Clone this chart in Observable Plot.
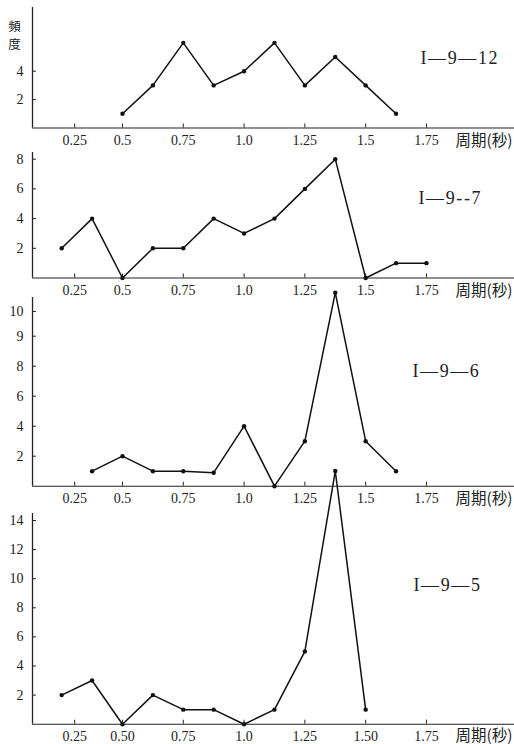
<!DOCTYPE html>
<html><head><meta charset="utf-8">
<script src="https://cdn.jsdelivr.net/npm/d3@7"></script>
<script src="https://cdn.jsdelivr.net/npm/@observablehq/plot@0.6"></script>
<style>
body{margin:0;background:#fff;}
#wrap{position:relative;width:514px;height:744px;overflow:hidden;}
#wrap svg, #wrap svg text{font-family:'Liberation Serif', 'DejaVu Serif', serif;}
#wrap g[aria-label$="tick label"]{font-size:14px;}
#wrap g[font-size="18"] text{letter-spacing:1.6px;}
#wrap g[font-family="Noto Sans CJK JP"] text{font-family:'Noto Sans CJK JP', sans-serif;}
</style></head><body><div id="wrap"></div>
<script>
// ---- data ----
const xTicks = [0.25, 0.5, 0.75, 1.0, 1.25, 1.5, 1.75];
const xTickLabels1 = ["0.25", "0.5", "0.75", "1.0", "1.25", "1.5", "1.75"];
const xTickLabels2 = ["0.25", "0.5", "0.75", "1.0", "1.25", "1.5", "1.75"];
const xTickLabels3 = ["0.25", "0.5", "0.75", "1.0", "1.25", "1.5", "1.75"];
const xTickLabels4 = ["0.25", "0.50", "0.75", "1.0", "1.25", "1.50", "1.75"];
const xAxisTitle = "周期(秒)";
const yAxisTitle = "頻\n度";

const names = ["I—9—12", "I—9--7", "I—9—6", "I—9—5"];

const periods1 = [0.5, 0.625, 0.75, 0.875, 1.0, 1.125, 1.25, 1.375, 1.5, 1.625];
const values1  = [1, 3, 6, 3, 4, 6, 3, 5, 3, 1];

const periods2 = [0.25, 0.375, 0.5, 0.625, 0.75, 0.875, 1.0, 1.125, 1.25, 1.375, 1.5, 1.625, 1.75];
const values2  = [2, 4, 0, 2, 2, 4, 3, 4, 6, 8, 0, 1, 1];

const periods3 = [0.375, 0.5, 0.625, 0.75, 0.875, 1.0, 1.125, 1.25, 1.375, 1.5, 1.625];
const values3  = [1, 2, 1, 1, 0.9, 4, 0, 3, 12.9, 3, 1];

const periods4 = [0.25, 0.375, 0.5, 0.625, 0.75, 0.875, 1.0, 1.125, 1.25, 1.375, 1.5];
const values4  = [2, 3, 0, 2, 1, 1, 0, 1, 5, 17.4, 1];

const yTicks1 = [2, 4];             const yTickLabels1 = ["2", "4"];
const yTicks2 = [2, 4, 6, 8];       const yTickLabels2 = ["2", "4", "6", "8"];
const yTicks3 = [2, 4, 6, 8, 10, 11.65]; const yTickLabels3 = ["2", "4", "6", "8", "9", "10"];
const yTicks4 = [2, 4, 6, 8, 10, 12, 14]; const yTickLabels4 = ["2", "4", "6", "8", "10", "12", "14"];

// ---- layout ----
const W = 514, ML = 32;
const xDomain = [0.130, 2.112];
const SERIF = "Liberation Serif";
const CJK = "Noto Sans CJK JP";

function panel(o) {
  const data = d3.zip(o.periods, o.values).map(([x, y]) => ({x, y}));
  const xl = new Map(xTicks.map((t, i) => [t, o.xLabels[i]]));
  const yl = new Map(o.yTicks.map((t, i) => [t, o.yLabels[i]]));
  const marks = [
    Plot.ruleY([0], {stroke: "#222", strokeWidth: 1.1}),
    Plot.ruleX([xDomain[0]], {stroke: "#222", strokeWidth: 1.3}),
    Plot.axisX({ticks: xTicks.slice(1), tickFormat: d => xl.get(d), tickSize: -4, tickPadding: 11, label: null, stroke: "#222", fontFamily: SERIF, fontSize: 14}),
    Plot.axisX({ticks: xTicks.slice(0, 1), tickFormat: d => xl.get(d), tickSize: -4, tickPadding: 11, label: null, dx: 13, stroke: "#222", fontFamily: SERIF, fontSize: 14}),
    Plot.axisY({ticks: o.yTicks, tickFormat: d => yl.get(d), tickSize: -4, tickPadding: 13, label: null, stroke: "#222", fontFamily: SERIF, fontSize: 14}),
    Plot.line(data, {x: "x", y: "y", stroke: "#111", strokeWidth: 1.5}),
    Plot.dot(data, {x: "x", y: "y", r: 2.2, fill: "#111"}),
    Plot.text([o.name], {frameAnchor: "top-left", dx: o.nameDx, dy: o.nameDy, textAnchor: "start", lineAnchor: "middle", fontSize: 18, fontFamily: SERIF, fill: "#222"}),
    Plot.text([xAxisTitle], {frameAnchor: "bottom-left", dx: 423, dy: o.xTitleDy, textAnchor: "start", lineAnchor: "middle", fontSize: 15.5, fontFamily: CJK, fill: "#222"})
  ];
  if (o.ylabel) marks.push(Plot.text([yAxisTitle], {frameAnchor: "top-left", dx: -18, dy: 27, textAnchor: "middle", lineAnchor: "middle", lineHeight: 1.45, fontSize: 12.5, fontFamily: CJK, fill: "#222"}));
  const svg = Plot.plot({
    width: W, height: o.height,
    marginLeft: ML, marginRight: 0, marginTop: o.marginTop, marginBottom: o.marginBottom,
    x: {domain: xDomain},
    y: {domain: [0, o.yMax]},
    style: {position: "absolute", left: "0px", top: o.top + "px", background: "transparent", overflow: "visible", fontSize: "13px", color: "#222"},
    marks
  });
  document.getElementById("wrap").appendChild(svg);
}

panel({periods: periods1, values: values1, yTicks: yTicks1, yLabels: yTickLabels1, xLabels: xTickLabels1, name: names[0],
  top: 0, height: 150, marginTop: 7, marginBottom: 22.5, yMax: 8.49, nameDx: 388, nameDy: 51, xTitleDy: 13, ylabel: true});
panel({periods: periods2, values: values2, yTicks: yTicks2, yLabels: yTickLabels2, xLabels: xTickLabels2, name: names[1],
  top: 147, height: 153, marginTop: 5, marginBottom: 22.5, yMax: 8.45, nameDx: 386, nameDy: 46, xTitleDy: 13});
panel({periods: periods3, values: values3, yTicks: yTicks3, yLabels: yTickLabels3, xLabels: xTickLabels3, name: names[2],
  top: 290, height: 218.2, marginTop: 7, marginBottom: 22.5, yMax: 12.58, nameDx: 380, nameDy: 74, xTitleDy: 13});
panel({periods: periods4, values: values4, yTicks: yTicks4, yLabels: yTickLabels4, xLabels: xTickLabels4, name: names[3],
  top: 500, height: 244, marginTop: 13, marginBottom: 20.3, yMax: 14.48, nameDx: 381, nameDy: 72, xTitleDy: 11.5});
</script></body></html>
